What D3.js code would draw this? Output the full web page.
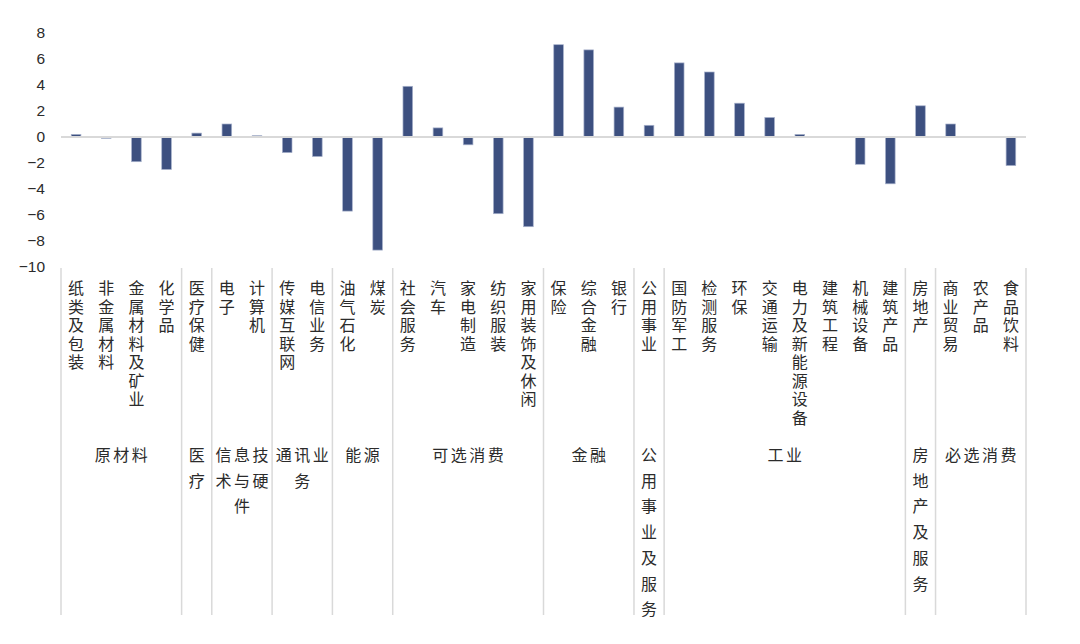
<!DOCTYPE html>
<html>
<head>
<meta charset="utf-8">
<script src="https://cdn.jsdelivr.net/npm/d3@7/dist/d3.min.js"></script>
<style>
  html, body { margin: 0; padding: 0; background: #ffffff; }
  svg { display: block; }
</style>
</head>
<body>
<svg id="chart" width="1080" height="644"></svg>
<script>
const categories = [
  "纸类及包装","非金属材料","金属材料及矿业","化学品",
  "医疗保健",
  "电子","计算机",
  "传媒互联网","电信业务",
  "油气石化","煤炭",
  "社会服务","汽车","家电制造","纺织服装","家用装饰及休闲",
  "保险","综合金融","银行",
  "公用事业",
  "国防军工","检测服务","环保","交通运输","电力及新能源设备","建筑工程","机械设备","建筑产品",
  "房地产",
  "商业贸易","农产品","食品饮料"
];
const values = [
  0.2, -0.1, -1.9, -2.5,
  0.3,
  1.0, 0.1,
  -1.2, -1.5,
  -5.7, -8.7,
  3.9, 0.7, -0.6, -5.9, -6.9,
  7.1, 6.7, 2.3,
  0.9,
  5.7, 5.0, 2.6, 1.5, 0.2, 0.0, -2.1, -3.6,
  2.4,
  1.0, 0.0, -2.2
];
const groups = ["原材料","医疗","信息技术与硬件","通讯业务","能源","可选消费","金融","公用事业及服务","工业","房地产及服务","必选消费"];
const groupSizes = [4, 1, 2, 2, 2, 5, 3, 1, 8, 1, 3];
const yTicks = [-10, -8, -6, -4, -2, 0, 2, 4, 6, 8];

(function () {
const svg = d3.select("#chart");
const mLeft = 61, mRight = 1026, mTop = 33, mBottom = 267;
const fontCJK = "'Noto Sans CJK SC', 'Noto Sans', sans-serif";
const textColor = "#2b2b2b";
const lineColor = "#d9d9d9";

const x = d3.scaleBand()
  .domain(d3.range(categories.length))
  .range([mLeft, mRight])
  .paddingInner(0.68)
  .paddingOuter(0.34);
const step = x.step();

const y = d3.scaleLinear().domain([-10, 8]).range([mBottom, mTop]);

// Y axis (labels only)
const yAxis = d3.axisLeft(y).tickValues(yTicks).tickSize(0).tickPadding(16);
const gy = svg.append("g").attr("transform", `translate(${mLeft},0)`).call(yAxis);
gy.select(".domain").remove();
gy.selectAll("text")
  .attr("font-family", "'Liberation Sans', Arial, sans-serif")
  .attr("font-size", 15.5)
  .attr("fill", textColor);

// Bars
svg.append("g").selectAll("rect")
  .data(values)
  .join("rect")
  .attr("x", (d, i) => x(i))
  .attr("width", x.bandwidth())
  .attr("y", d => y(Math.max(0, d)))
  .attr("height", d => Math.abs(y(d) - y(0)))
  .attr("fill", "#3d5080")
  .attr("stroke", "#a7b1cb")
  .attr("stroke-width", 0.7);

// Zero line
svg.append("line")
  .attr("x1", mLeft).attr("x2", mRight)
  .attr("y1", y(0)).attr("y2", y(0))
  .attr("stroke", lineColor).attr("stroke-width", 2);

// Group separators
const boundaries = [0];
groupSizes.forEach(s => boundaries.push(boundaries[boundaries.length - 1] + s));
svg.append("g").selectAll("line")
  .data(boundaries)
  .join("line")
  .attr("x1", b => mLeft + b * step)
  .attr("x2", b => mLeft + b * step)
  .attr("y1", 268).attr("y2", 615)
  .attr("stroke", lineColor).attr("stroke-width", 1.5);

// Category labels (vertical, upright characters)
const adv = 18.5;
svg.append("g")
  .attr("font-family", fontCJK)
  .attr("font-size", 16)
  .attr("fill", textColor)
  .selectAll("text")
  .data(categories)
  .join("text")
  .attr("x", (c, i) => x(i) + x.bandwidth() / 2)
  .attr("y", 280)
  .style("writing-mode", "vertical-rl")
  .style("text-orientation", "upright")
  .style("letter-spacing", (adv - 16) + "px")
  .text(c => c);

// Group labels (horizontal, wrapped)
const grpG = svg.append("g")
  .attr("font-family", fontCJK)
  .attr("font-size", 16)
  .attr("fill", textColor);
groups.forEach((g, gi) => {
  const x0 = mLeft + boundaries[gi] * step;
  const x1 = mLeft + boundaries[gi + 1] * step;
  const cx = (x0 + x1) / 2;
  const perLine = Math.max(1, Math.floor((x1 - x0 - 4) / adv));
  const chars = Array.from(g);
  const lines = [];
  for (let k = 0; k < chars.length; k += perLine) lines.push(chars.slice(k, k + perLine).join(""));
  const t = grpG.append("text")
    .attr("text-anchor", "middle")
    .style("letter-spacing", (adv - 16) + "px");
  lines.forEach((ln, li) => {
    t.append("tspan")
      .attr("x", cx + (adv - 16) / 2)
      .attr("y", 461 + li * 25.7)
      .text(ln);
  });
});
})();
</script>
</body>
</html>
